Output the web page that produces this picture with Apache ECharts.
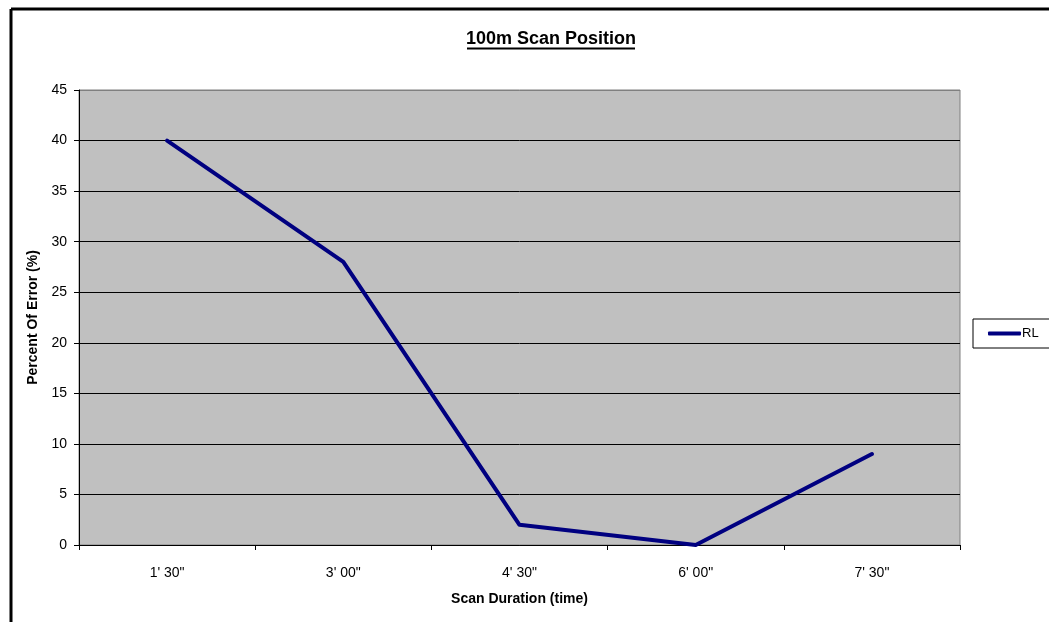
<!DOCTYPE html>
<html>
<head>
<meta charset="utf-8">
<script src="https://cdn.jsdelivr.net/npm/echarts@6/dist/echarts.min.js"></script>
<style>
  html, body { margin: 0; padding: 0; background: #fff; }
  #chart { width: 1049px; height: 622px; }
</style>
</head>
<body>
<div id="chart"></div>
<script>
// Scan durations on the x axis and percent error for the RL run
const categories = ["1' 30\"", "3' 00\"", "4' 30\"", "6' 00\"", "7' 30\""];
const rlValues = [40, 28, 2, 0, 9];
const seriesName = 'RL';
const chartTitle = '100m Scan Position';
const xAxisTitle = 'Scan Duration (time)';
const yAxisTitle = 'Percent Of Error (%)';

const FONT = "'Liberation Sans', Arial, sans-serif";

// Gridlines are black except the top one, which blends with the plot border
const gridColors = ['#000', '#000', '#000', '#000', '#000', '#000', '#000', '#000', '#000', '#808080'];

const chart = echarts.init(document.getElementById('chart'), null, { renderer: 'canvas' });

chart.setOption({
  backgroundColor: '#fff',
  animation: false,
  textStyle: { fontFamily: FONT },
  graphic: [
    // frame along the top and left edges
    { type: 'line', shape: { x1: 11, y1: 9, x2: 1049, y2: 9 }, style: { stroke: '#000', lineWidth: 3 } },
    { type: 'line', shape: { x1: 11, y1: 9, x2: 11, y2: 622 }, style: { stroke: '#000', lineWidth: 3 } },
    // underlined title
    {
      type: 'text', x: 551, y: 39,
      style: {
        text: chartTitle, fill: '#000', align: 'center', verticalAlign: 'middle',
        font: "bold 18px 'Liberation Sans', Arial, sans-serif"
      }
    },
    { type: 'line', shape: { x1: 467, y1: 48.5, x2: 635, y2: 48.5 }, style: { stroke: '#000', lineWidth: 2 } }
  ],
  legend: {
    data: [seriesName],
    left: 973,
    top: 319,
    orient: 'vertical',
    icon: 'roundRect',
    itemWidth: 33,
    itemHeight: 4,
    itemGap: 0,
    padding: [7, 40, 7, 15],
    backgroundColor: '#fff',
    borderColor: '#000',
    borderWidth: 1,
    borderRadius: 0,
    textStyle: { fontFamily: FONT, fontSize: 13, color: '#000', padding: [0, 0, 0, -4], lineHeight: 15 }
  },
  grid: {
    left: 79, right: 89, top: 90, bottom: 77,
    show: true,
    backgroundColor: '#c0c0c0',
    borderColor: '#808080',
    borderWidth: 1
  },
  xAxis: {
    type: 'category',
    data: categories,
    boundaryGap: true,
    name: xAxisTitle,
    nameLocation: 'middle',
    nameGap: 47,
    nameTextStyle: { fontFamily: FONT, fontSize: 14, fontWeight: 'bold', color: '#000' },
    axisLine: { lineStyle: { color: '#000', width: 1 } },
    axisTick: { show: true, length: 5, lineStyle: { color: '#000' } },
    axisLabel: { fontFamily: FONT, fontSize: 14, color: '#000', margin: 21 },
    splitLine: { show: false }
  },
  yAxis: {
    type: 'value',
    min: 0, max: 45, interval: 5,
    name: yAxisTitle,
    nameLocation: 'middle',
    nameGap: 35,
    nameTextStyle: { fontFamily: FONT, fontSize: 14, fontWeight: 'bold', color: '#000' },
    axisLine: { show: true, lineStyle: { color: '#000', width: 1 } },
    axisTick: { show: true, length: 5, lineStyle: { color: '#000' } },
    axisLabel: { fontFamily: FONT, fontSize: 14, color: '#000', margin: 12 },
    splitLine: { show: true, lineStyle: { color: gridColors, width: 1 } }
  },
  series: [{
    name: seriesName,
    type: 'line',
    data: rlValues,
    showSymbol: false,
    symbol: 'none',
    lineStyle: { color: '#000080', width: 4, cap: 'round', join: 'round' },
    itemStyle: { color: '#000080' },
    emphasis: { disabled: true }
  }]
});
</script>
</body>
</html>
